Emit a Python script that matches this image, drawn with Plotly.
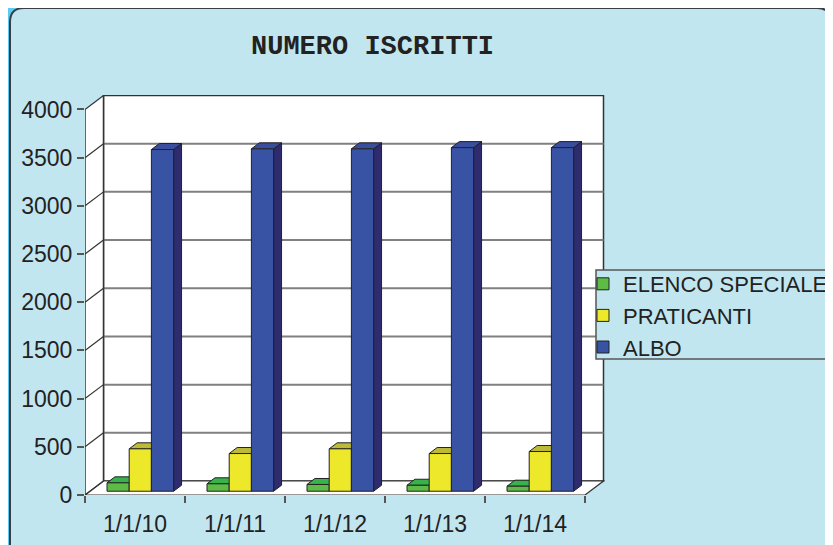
import plotly.graph_objects as go

# data
categories = ["1/1/10", "1/1/11", "1/1/12", "1/1/13", "1/1/14"]
series_names = ["ELENCO SPECIALE", "PRATICANTI", "ALBO"]
elenco_speciale = [87, 77, 70, 62, 52]
praticanti = [440, 391, 440, 391, 412]
albo = [3545, 3552, 3552, 3565, 3565]
y_ticks = [0, 500, 1000, 1500, 2000, 2500, 3000, 3500, 4000]

series_values = [elenco_speciale, praticanti, albo]
# (front, top, side) colours per series
face_colors = [
    ("#5EBB46", "#38B24A", "#2E8B3A"),
    ("#EEE82A", "#BDBA3A", "#A8A520"),
    ("#3853A4", "#3A4EA0", "#2E2B6E"),
]

# fake 3d look (Excel style): depth of the walls and of the bars
DX, DY = 0.185, 145
F0, F1 = 0.27, 0.70
G, W = 0.17, 0.222
YMAX = y_ticks[-1]
NCAT = len(categories)

# figure geometry in pixels (page body adds an 8px offset)
FIG_W, FIG_H = 833, 545
OFF = 8
L, B = 85 - OFF, 50 + OFF
PW, PH = 520, 400


def px(sx):
    # screen x -> paper x
    return (sx - OFF - L) / PW


def py(sy):
    # screen y -> paper y
    return ((FIG_H - B) - (sy - OFF)) / PH


EDGE = "#333333"
GRID = "#808080"
PANEL = "#C2E6F0"
FONT = "Liberation Sans, Arial"

fig = go.Figure()

# bars: front, top and side faces as filled polygons, series by series
for s, vals in enumerate(series_values):
    fr, tp, sd = [], [], []
    ddx, ddy = (F1 - F0) * DX, (F1 - F0) * DY
    for i, v in enumerate(vals):
        x0 = i + G + s * W + F0 * DX
        x1 = x0 + W
        yb = F0 * DY
        yt = v + F0 * DY
        fr.append(([x0, x1, x1, x0, x0, None], [yb, yb, yt, yt, yb, None]))
        tp.append(([x0, x1, x1 + ddx, x0 + ddx, x0, None],
                   [yt, yt, yt + ddy, yt + ddy, yt, None]))
        sd.append(([x1, x1 + ddx, x1 + ddx, x1, x1, None],
                   [yb, yb + ddy, yt + ddy, yt, yb, None]))
    for poly, col in ((sd, face_colors[s][2]), (tp, face_colors[s][1]), (fr, face_colors[s][0])):
        xs = [a for p in poly for a in p[0]]
        ys = [a for p in poly for a in p[1]]
        fig.add_trace(go.Scatter(
            x=xs, y=ys, mode="lines", fill="toself", fillcolor=col,
            line=dict(color="#222222", width=1), showlegend=False, hoverinfo="skip"
        ))

# legend entries
for s, name in enumerate(series_names):
    fig.add_trace(go.Bar(
        x=[None], y=[None], name=name,
        marker=dict(color=face_colors[s][0], line=dict(color="#222222", width=1))
    ))

shapes = []
# page background pieces
shapes.append(dict(type="path", xref="paper", yref="paper", layer="below",
                   path=f"M{px(0)},{py(0)} L{px(148)},{py(0)} L{px(120)},{py(600)} L{px(0)},{py(600)} Z",
                   fillcolor="#5BCBF2", line=dict(width=0)))
r = 14
x_a, x_b, y_a, y_b = 10, 831, 8, 580
shapes.append(dict(
    type="path", xref="paper", yref="paper", layer="below",
    path=(f"M{px(x_a)},{py(y_b)} L{px(x_a)},{py(y_a + r)} Q{px(x_a)},{py(y_a)} {px(x_a + r)},{py(y_a)} "
          f"L{px(x_b - r)},{py(y_a)} Q{px(x_b)},{py(y_a)} {px(x_b)},{py(y_a + r)} L{px(x_b)},{py(y_b)} Z"),
    fillcolor=PANEL, line=dict(color="#3B3F45", width=2)))

# walls and floor
shapes.append(dict(type="path", xref="x", yref="y", layer="below",
                   path=f"M{DX},{DY} L{NCAT + DX},{DY} L{NCAT + DX},{YMAX + DY} L{DX},{YMAX + DY} Z",
                   fillcolor="white", line=dict(color=EDGE, width=1.5)))
shapes.append(dict(type="path", xref="x", yref="y", layer="below",
                   path=f"M0,0 L{DX},{DY} L{DX},{YMAX + DY} L0,{YMAX} Z",
                   fillcolor="white", line=dict(width=0)))
shapes.append(dict(type="path", xref="x", yref="y", layer="below",
                   path=f"M0,0 L{NCAT},0 L{NCAT + DX},{DY} L{DX},{DY} Z",
                   fillcolor="white", line=dict(color=EDGE, width=1.2)))
for v in y_ticks[1:-1]:
    shapes.append(dict(type="line", xref="x", yref="y", layer="below",
                       x0=DX, x1=NCAT + DX, y0=v + DY, y1=v + DY, line=dict(color=GRID, width=2)))
for v in y_ticks:
    shapes.append(dict(type="line", xref="x", yref="y", layer="below",
                       x0=0, x1=DX, y0=v, y1=v + DY, line=dict(color=EDGE, width=1.2)))
shapes.append(dict(type="line", xref="x", yref="y", layer="below",
                   x0=0, x1=0, y0=0, y1=YMAX, line=dict(color=EDGE, width=1.5)))
shapes.append(dict(type="line", xref="x", yref="y", layer="below",
                   x0=DX, x1=DX, y0=DY, y1=YMAX + DY, line=dict(color=EDGE, width=1.5)))

# legend frame
shapes.append(dict(type="rect", xref="paper", yref="paper", layer="above",
                   x0=px(596), x1=px(845), y0=py(359), y1=py(270),
                   fillcolor=PANEL, line=dict(color="#555555", width=1.5)))

fig.update_layout(
    width=FIG_W, height=FIG_H,
    margin=dict(l=L, r=FIG_W - L - PW, t=FIG_H - B - PH, b=B, autoexpand=False),
    paper_bgcolor="white",
    plot_bgcolor="rgba(0,0,0,0)",
    shapes=shapes,
    showlegend=True,
    legend=dict(
        x=px(583), y=py(263), xanchor="left", yanchor="top",
        bgcolor="rgba(0,0,0,0)", borderwidth=0,
        font=dict(family=FONT, size=22, color="#222222"),
        tracegroupgap=0,
    ),
    annotations=[dict(
        text="NUMERO ISCRITTI", xref="paper", yref="paper", x=px(372), y=py(47),
        xanchor="center", yanchor="middle", showarrow=False,
        font=dict(family="Liberation Mono, Courier New", size=27, color="#222222", weight="bold"),
    )],
    xaxis=dict(
        range=[0, NCAT + 0.2], showgrid=False, zeroline=False, showline=False,
        tickmode="array", tickvals=[i + 0.5 for i in range(NCAT)], ticktext=categories,
        ticks="outside", ticklen=8, tickcolor="rgba(0,0,0,0)",
        minor=dict(ticks="outside", tickmode="linear", tick0=0, dtick=1,
                   ticklen=7, tickcolor="#555555", tickwidth=1.5),
        tickfont=dict(family=FONT, size=23, color="#222222"),
        fixedrange=True,
    ),
    yaxis=dict(
        range=[0, YMAX + 150], showgrid=False, zeroline=False, showline=False,
        tickmode="array", tickvals=y_ticks,
        ticks="outside", ticklen=7, tickcolor="#555555", tickwidth=1.5,
        tickfont=dict(family=FONT, size=23, color="#222222"),
        fixedrange=True,
    ),
)

fig.write_html("out.html")
